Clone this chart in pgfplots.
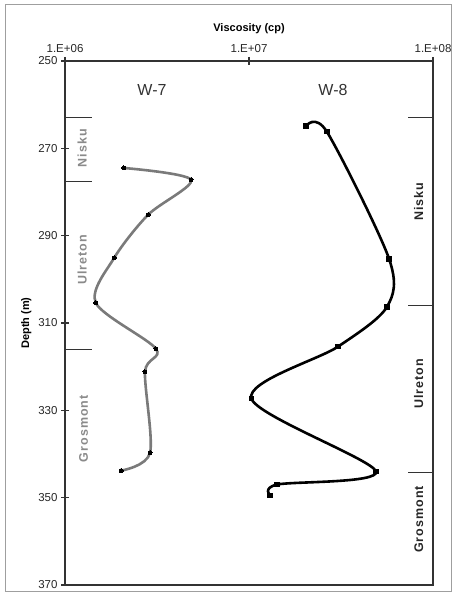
\documentclass[border=0pt]{standalone}
\usepackage{pgfplots}
\pgfplotsset{compat=1.18}
\usepackage{fontspec}
\setmainfont{Liberation Sans}
\definecolor{wgray}{HTML}{7A7A7A}
\definecolor{lblgray}{HTML}{8A8A8A}
\begin{document}
\begin{tikzpicture}
\useasboundingbox (-65pt,-11pt) rectangle (390pt,585pt);
\draw[gray!75, line width=1pt] (-59pt,-7pt) rectangle (386pt,580pt);
\begin{axis}[
  at={(0pt,0pt)}, anchor=south west,
  scale only axis, width=368pt, height=524pt,
  xmode=log, xmin=1e6, xmax=1e8,
  ymin=250, ymax=370, y dir=reverse,
  xtick={1e6,1e7,1e8}, xticklabels={1.E+06,1.E+07,1.E+08},
  ytick={250,270,...,370},
  xminorticks=false, yminorticks=false,
  xtick pos=right, xticklabel pos=right, ytick pos=left,
  tick align=center, major tick length=8pt,
  axis line style={black!80, line width=1.1pt},
  every tick/.style={black!80, line width=1.1pt},
  /pgf/number format/assume math mode=true,
  tick label style={font=\fontsize{11.5}{13}\selectfont, black!85},
  xticklabel style={yshift=1pt},
  xlabel={\textbf{Viscosity (cp)}},
  xlabel style={font=\fontsize{11}{13}\selectfont, yshift=4pt},
  ylabel={\textbf{Depth (m)}},
  ylabel style={font=\fontsize{11}{13}\selectfont},
  clip=false,
]
\addplot[wgray, line width=2.6pt, smooth, tension=0.5,
  mark=*, mark size=2pt, mark options={black, fill=black, line width=0pt}]
  coordinates {
  (2.09e6,274.5) (4.84e6,277.2) (2.83e6,285.2) (1.85e6,295.1) (1.47e6,305.4)
  (3.12e6,315.9) (2.72e6,321.2) (2.90e6,339.7) (2.02e6,343.8)};
\addplot[black, line width=2.6pt, smooth, tension=0.5,
  mark=square*, mark size=2.2pt, mark options={black, fill=black, line width=0pt}]
  coordinates {
  (2.04e7,264.9) (2.65e7,266.2) (5.77e7,295.3) (5.62e7,306.3) (3.05e7,315.4)
  (1.03e7,327.3) (4.90e7,344.0) (1.42e7,347.0) (1.30e7,349.5)};
% formation boundaries
\draw[black!80, line width=1.1pt] (axis cs:1e6,263) -- ++(27pt,0pt);
\draw[black!80, line width=1.1pt] (axis cs:1e6,277.5) -- ++(27pt,0pt);
\draw[black!80, line width=1.1pt] (axis cs:1e6,316) -- ++(27pt,0pt);
\draw[black!80, line width=1.1pt] (axis cs:1e8,263) -- ++(-25pt,0pt);
\draw[black!80, line width=1.1pt] (axis cs:1e8,306) -- ++(-25pt,0pt);
\draw[black!80, line width=1.1pt] (axis cs:1e8,344.3) -- ++(-25pt,0pt);
% well names
\node[font=\fontsize{16}{18}\selectfont, black!80] at (axis cs:2.97e6,256.6) {W-7};
\node[font=\fontsize{16}{18}\selectfont, black!80] at (axis cs:2.86e7,256.6) {W-8};
% formation labels
\node[rotate=90, lblgray, font=\fontsize{12.5}{14}\selectfont\bfseries\addfontfeature{LetterSpace=8}] at (axis cs:1.24e6,270) {Nisku};
\node[rotate=90, lblgray, font=\fontsize{12.5}{14}\selectfont\bfseries\addfontfeature{LetterSpace=8}] at (axis cs:1.24e6,295.6) {Ulreton};
\node[rotate=90, lblgray, font=\fontsize{12.5}{14}\selectfont\bfseries\addfontfeature{LetterSpace=8}] at (axis cs:1.26e6,334.2) {Grosmont};
\node[rotate=90, black!85, font=\fontsize{12.5}{14}\selectfont\bfseries\addfontfeature{LetterSpace=8}] at (axis cs:8.36e7,282.2) {Nisku};
\node[rotate=90, black!85, font=\fontsize{12.5}{14}\selectfont\bfseries\addfontfeature{LetterSpace=8}] at (axis cs:8.36e7,323.9) {Ulreton};
\node[rotate=90, black!85, font=\fontsize{12.5}{14}\selectfont\bfseries\addfontfeature{LetterSpace=8}] at (axis cs:8.36e7,355) {Grosmont};
\end{axis}
\end{tikzpicture}
\end{document}
